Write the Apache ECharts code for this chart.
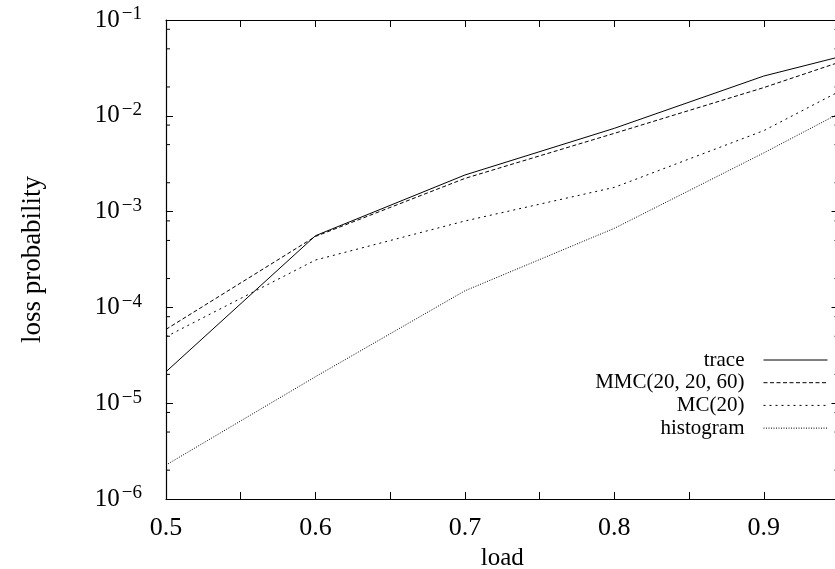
<!DOCTYPE html>
<html>
<head>
<meta charset="utf-8">
<script src="https://cdn.jsdelivr.net/npm/echarts@6/dist/echarts.min.js"></script>
<style>html,body{margin:0;padding:0;background:#fff;}#c{width:835px;height:569px;}</style>
</head>
<body>
<div id="c"></div>
<script>
const loads = [0.5, 0.6, 0.7, 0.8, 0.9, 0.95];
const trace = [2.13e-5, 5.6e-4, 2.41e-3, 7.4e-3, 2.6e-2, 4.1e-2];
const mmc = [5.9e-5, 5.5e-4, 2.22e-3, 6.56e-3, 1.97e-2, 3.6e-2];
const mc = [4.94e-5, 3.12e-4, 7.98e-4, 1.79e-3, 7.0e-3, 1.78e-2];
const hist = [2.26e-6, 1.89e-5, 1.49e-4, 6.69e-4, 4.1e-3, 1.05e-2];
const seriesNames = ['trace', 'MMC(20, 20, 60)', 'MC(20)', 'histogram'];
const minorMantissas = [2, 5, 8];
const decades = [-6, -5, -4, -3, -2];

const FONT = 'Liberation Serif';
const pairs = arr => loads.map((x, i) => [x, arr[i]]);
const minorData = [];
decades.forEach(d => minorMantissas.forEach(m => minorData.push([0.5, m * Math.pow(10, d)])));

const chart = echarts.init(document.getElementById('c'), null, {renderer: 'canvas'});
const xCommon = {type: 'value', min: 0.5, max: 0.95, interval: 0.05,
  axisLine: {show: true, lineStyle: {color: '#000', width: 1.2}},
  axisTick: {show: true, inside: true, length: 7, lineStyle: {color: '#000', width: 1}},
  splitLine: {show: false}};
const yCommon = {type: 'log', logBase: 10, min: 1e-6, max: 0.1,
  axisLine: {show: true, lineStyle: {color: '#000', width: 1.2}},
  axisTick: {show: true, inside: true, length: 7, lineStyle: {color: '#000', width: 1}},
  splitLine: {show: false}, minorTick: {show: false}};

const lineSeries = (name, data, type) => ({
  name, type: 'line', data: pairs(data), symbol: 'none', showSymbol: false,
  xAxisIndex: 0, yAxisIndex: 0, animation: false,
  lineStyle: {color: '#000', width: 1, type: type}, itemStyle: {color: '#000'}
});

chart.setOption({
  animation: false,
  backgroundColor: '#fff',
  grid: {left: 166, top: 20, width: 672.5, height: 479, containLabel: false, outerBoundsMode: 'none'},
  xAxis: [
    Object.assign({}, xCommon, {position: 'bottom', name: 'load', nameLocation: 'middle', nameGap: 40,
      nameTextStyle: {fontFamily: FONT, fontSize: 25, color: '#000'},
      axisLabel: {show: true, margin: 16, fontFamily: FONT, fontSize: 26, color: '#000',
        formatter: v => (Math.round(v * 100) % 10 === 0 ? v.toFixed(1) : '')}}),
    Object.assign({}, xCommon, {position: 'top', axisLabel: {show: false}})
  ],
  yAxis: [
    Object.assign({}, yCommon, {position: 'left', name: 'loss probability', nameLocation: 'middle', nameGap: 120,
      nameTextStyle: {fontFamily: FONT, fontSize: 27, color: '#000'},
      axisLabel: {show: true, margin: 24, color: '#000',
        formatter: v => '{b|10}{s|\u2212' + Math.round(-Math.log10(v)) + '}',
        rich: {b: {fontFamily: FONT, fontSize: 25, color: '#000'},
               s: {fontFamily: FONT, fontSize: 19, color: '#000', verticalAlign: 'bottom', padding: [0, 0, 11, 2]}}}}),
    Object.assign({}, yCommon, {position: 'right', axisLabel: {show: false}})
  ],
  legend: {
    show: true, orient: 'vertical', align: 'right', right: 7, top: 349, padding: 0,
    itemWidth: 64, itemHeight: 14, itemGap: 0.7,
    data: seriesNames,
    itemStyle: {color: 'rgba(0,0,0,0)', borderColor: 'rgba(0,0,0,0)', borderWidth: 0},
    lineStyle: {width: 1},
    textStyle: {fontFamily: FONT, fontSize: 21, color: '#000', lineHeight: 22, padding: [0, 14, 0, 0]},
    selectedMode: false
  },
  series: [
    lineSeries(seriesNames[0], trace, 'solid'),
    lineSeries(seriesNames[1], mmc, [4, 2.5]),
    lineSeries(seriesNames[2], mc, [2, 4]),
    lineSeries(seriesNames[3], hist, [1, 1.5]),
    {
      type: 'custom', name: 'minorTicks', xAxisIndex: 0, yAxisIndex: 0, silent: true,
      data: minorData, encode: {x: 0, y: 1},
      renderItem: (params, api) => {
        const pl = api.coord([0.5, api.value(1)]);
        const pr = api.coord([0.95, api.value(1)]);
        const st = {stroke: '#000', lineWidth: 1};
        return {type: 'group', children: [
          {type: 'line', shape: {x1: pl[0], y1: pl[1], x2: pl[0] + 4, y2: pl[1]}, style: st},
          {type: 'line', shape: {x1: pr[0], y1: pr[1], x2: pr[0] - 4, y2: pr[1]}, style: st}
        ]};
      }
    }
  ]
});
</script>
</body>
</html>
